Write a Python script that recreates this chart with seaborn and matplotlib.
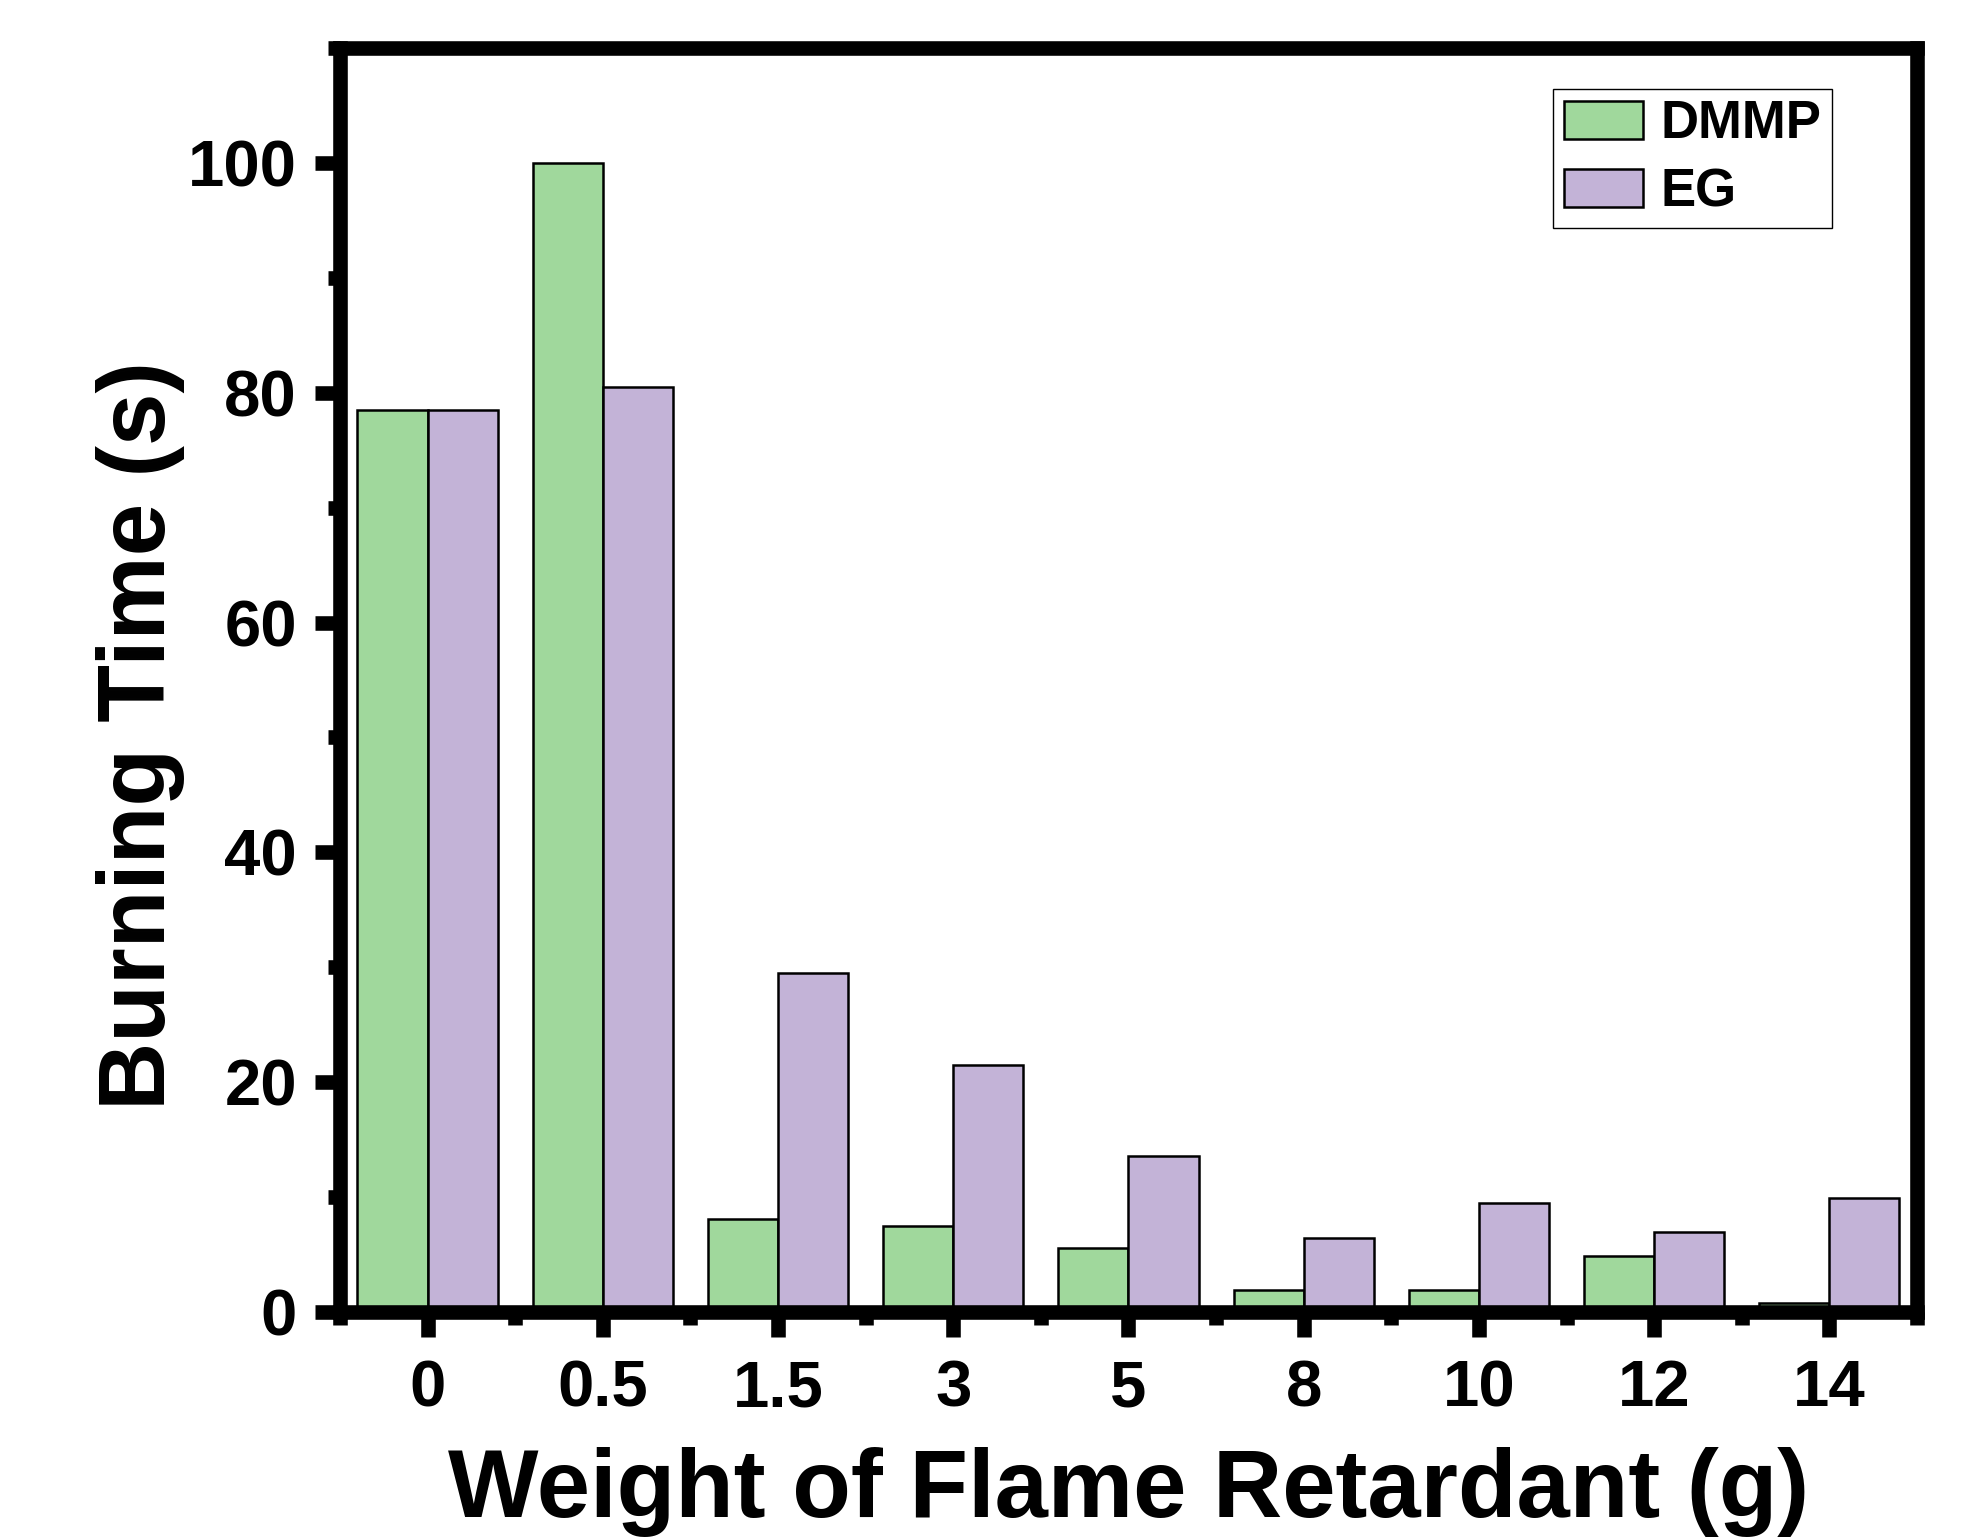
import numpy as np
import pandas as pd
import matplotlib
matplotlib.use('Agg')
import matplotlib.pyplot as plt
import seaborn as sns
from matplotlib.ticker import MultipleLocator, FixedLocator

categories = ['0', '0.5', '1.5', '3', '5', '8', '10', '12', '14']
dmmp = [78.5, 100, 8.1, 7.5, 5.6, 1.9, 1.9, 4.9, 0.8]
eg = [78.5, 80.5, 29.5, 21.5, 13.6, 6.4, 9.5, 7.0, 9.9]
series = ['DMMP', 'EG']
colors = ['#A0D89C', '#C3B3D7']
yticks = [0, 20, 40, 60, 80, 100]

sns.set_style('ticks')
plt.rcParams['font.family'] = ['Liberation Sans', 'DejaVu Sans']
plt.rcParams['font.weight'] = 'bold'
plt.rcParams['text.color'] = 'black'
plt.rcParams['axes.labelcolor'] = 'black'
plt.rcParams['xtick.color'] = 'black'
plt.rcParams['ytick.color'] = 'black'
plt.rcParams['xtick.labelcolor'] = 'black'
plt.rcParams['ytick.labelcolor'] = 'black'

df = pd.DataFrame({
    'Weight': categories * 2,
    'Time': dmmp + eg,
    'Series': [series[0]] * len(categories) + [series[1]] * len(categories),
})

fig = plt.figure(figsize=(19.73, 15.37), dpi=100)
ax = fig.add_axes([0.1723, 0.1464, 0.7993, 0.8224])
sns.barplot(data=df, x='Weight', y='Time', hue='Series', order=categories,
            hue_order=series, palette=colors, width=0.8, saturation=1,
            edgecolor='black', linewidth=1.8, ax=ax)

ax.set_xlim(-0.5, 8.5)
ax.set_ylim(0, 110)
ax.set_yticks(yticks)
ax.yaxis.set_minor_locator(MultipleLocator(10))
ax.xaxis.set_minor_locator(FixedLocator(np.arange(-0.5, 9, 1)))

for s in ax.spines.values():
    s.set_linewidth(10.5)
    s.set_color('black')
    s.set_visible(True)

ax.tick_params(axis='both', which='major', direction='out', length=18, width=10.5,
               labelsize=47, color='black', labelcolor='black')
ax.tick_params(axis='both', which='minor', direction='out', length=9, width=10.5,
               color='black')
ax.tick_params(axis='y', which='major', pad=13)
ax.tick_params(axis='x', which='major', pad=16)
for lab in ax.get_xticklabels() + ax.get_yticklabels():
    lab.set_fontweight('bold')

ax.set_xlabel('Weight of Flame Retardant (g)', fontsize=69, fontweight='bold', color='black')
ax.set_ylabel('Burning Time (s)', fontsize=68, fontweight='bold', color='black')
ax.xaxis.set_label_coords(0.5, -0.107)
ax.yaxis.set_label_coords(-0.098, 0.456)

handles, labels = ax.get_legend_handles_labels()
leg = ax.legend(handles, labels, loc='upper right', bbox_to_anchor=(0.946, 0.9676),
                prop={'size': 38, 'weight': 'bold'}, frameon=True, fancybox=False,
                edgecolor='black', framealpha=1, handlelength=1.5, handleheight=0.74,
                handletextpad=0.33, borderpad=0.2, labelspacing=0.34, borderaxespad=0)
leg.get_frame().set_linewidth(1.0)
for t in leg.get_texts():
    t.set_color('black')

fig.savefig('out.png', dpi=100)
